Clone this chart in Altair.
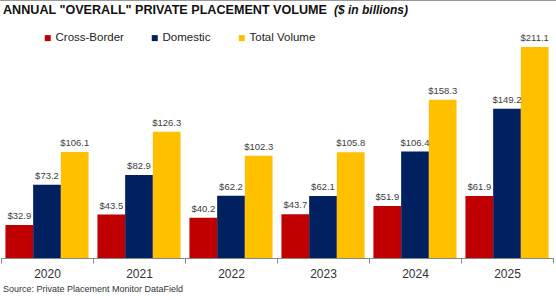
import altair as alt
import pandas as pd

years = ["2020", "2021", "2022", "2023", "2024", "2025"]
series = ["Cross-Border", "Domestic", "Total Volume"]
cross_border = [32.9, 43.5, 40.2, 43.7, 51.9, 61.9]
domestic = [73.2, 82.9, 62.2, 62.1, 106.4, 149.2]
total_volume = [106.1, 126.3, 102.3, 105.8, 158.3, 211.1]
colors = ["#C00000", "#002060", "#FFC000"]

title_bold = 'ANNUAL "OVERALL" PRIVATE PLACEMENT VOLUME'
title_italic = "($ in billions)"
source_text = "Source:  Private Placement Monitor DataField"

rows = []
for name, vals in zip(series, [cross_border, domestic, total_volume]):
    for y, v in zip(years, vals):
        rows.append({"year": y, "series": name, "value": v})
df = pd.DataFrame(rows)

base = alt.Chart(df).encode(
    x=alt.X("year:N", sort=years,
            scale=alt.Scale(paddingInner=0, paddingOuter=0),
            axis=alt.Axis(title=None, labelAngle=0, labelFontSize=12,
                          labelColor="#333333", labelPadding=5,
                          tickBand="extent", tickSize=5, tickColor="#888888",
                          domainColor="#888888", grid=False)),
    xOffset=alt.XOffset("series:N", sort=series,
                        scale=alt.Scale(paddingInner=0, paddingOuter=0.16)),
    y=alt.Y("value:Q", scale=alt.Scale(domain=[0, 230], nice=False), axis=None),
)

bars = base.mark_bar().encode(
    color=alt.Color("series:N", sort=series,
                    scale=alt.Scale(domain=series, range=colors),
                    legend=alt.Legend(title=None, orient="none", direction="horizontal",
                                      legendX=41, legendY=4, symbolType="square",
                                      symbolSize=36, symbolStrokeWidth=0,
                                      labelFontSize=11.5, labelColor="#222222",
                                      columnPadding=25, labelOffset=2, padding=0))
)

labels = base.mark_text(baseline="bottom", dy=-4, fontSize=9.5, color="#404040").encode(
    text=alt.Text("value:Q", format="$.1f")
)

t1 = alt.Chart(pd.DataFrame({"t": [title_bold]})).mark_text(
    align="left", baseline="middle", fontWeight="bold", fontSize=12.6, color="#111111"
).encode(x=alt.value(2), y=alt.value(-18.5), text="t:N")

t2 = alt.Chart(pd.DataFrame({"t": [title_italic]})).mark_text(
    align="left", baseline="middle", fontWeight="bold", fontStyle="italic",
    fontSize=12, color="#111111"
).encode(x=alt.value(333), y=alt.value(-18.5), text="t:N")

src = alt.Chart(pd.DataFrame({"t": [source_text]})).mark_text(
    align="left", baseline="middle", fontSize=9, color="#333333"
).encode(x=alt.value(2), y=alt.value(261), text="t:N")

topline = alt.Chart(pd.DataFrame({"a": [0]})).mark_rule(color="#999999", strokeWidth=1).encode(
    x=alt.value(-1), x2=alt.value(556), y=alt.value(-27.5)
)

chart = alt.layer(bars, labels, t1, t2, src, topline).properties(
    width=552, height=230,
    padding={"left": 1, "top": 28, "right": 3, "bottom": 42},
    autosize=alt.AutoSizeParams(type="none"),
).configure(font="Liberation Sans").configure_view(stroke=None)

chart.save("out.html", embed_options={"renderer": "svg", "actions": False})
